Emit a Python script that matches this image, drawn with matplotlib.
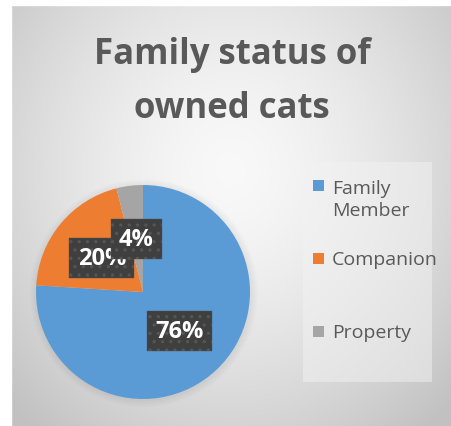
import numpy as np
import matplotlib.pyplot as plt
from matplotlib.patches import Rectangle, Circle

# data
categories = ['Family Member', 'Companion', 'Property']
legend_labels = ['Family\nMember', 'Companion', 'Property']
shares = [76, 20, 4]
colors = ['#5B9BD5', '#ED7D31', '#A5A5A5']

W, H = 452, 427
fig = plt.figure(figsize=(W / 100, H / 100), dpi=100)
plt.rcParams['font.family'] = ['Open Sans', 'DejaVu Sans']

# background panel with soft radial gradient
bg = fig.add_axes([0, 0, 1, 1])
bg.set_xlim(0, W)
bg.set_ylim(H, 0)
bg.axis('off')
yy, xx = np.mgrid[0:H, 0:W]
d = np.hypot((xx - 230) / 290, (yy - 170) / 320)
shade = np.clip(0.975 - 0.2 * d ** 1.5, 0.76, 0.98)
img = np.dstack([shade] * 3)
bg.imshow(img, extent=(0, W, H, 0), zorder=0)
bg.add_patch(Rectangle((0, 0), 11, H, color='white', zorder=1))
bg.add_patch(Rectangle((0, 0), W, 6, color='white', zorder=1))
# legend area
bg.add_patch(Rectangle((303, 163), 129, 220, color='#f2f2f2', alpha=0.5, lw=0, zorder=1))
# pie shadow
for i in range(5):
    bg.add_patch(Circle((144, 294), 114 - 1.5 * i, color='black', alpha=0.012, lw=0, zorder=1))

# title
fig.text(0.513, 0.872, 'Family status of', ha='center', va='center',
         fontsize=25, fontweight='bold', color='#595959')
fig.text(0.513, 0.745, 'owned cats', ha='center', va='center',
         fontsize=25, fontweight='bold', color='#595959')

# pie
ax = fig.add_axes([36 / W, (H - 293 - 107) / H, 214 / W, 214 / H])
plt.rcParams['hatch.linewidth'] = 1.2
wedges, texts, autotexts = ax.pie(
    shares, colors=colors, startangle=90, counterclock=False,
    autopct='%d%%', pctdistance=0.5,
    textprops=dict(color='white', fontsize=17, fontweight='bold'))
for t in autotexts:
    t.set_bbox(dict(boxstyle='square,pad=0.35', facecolor='#3f3f3f',
                    edgecolor='#555555', hatch='..', linewidth=0.3))
ax.set_xlim(-1, 1)
ax.set_ylim(-1, 1)
ax.set_aspect('equal')

# legend
leg_y = [196, 260, 333]
for lab, c, y in zip(legend_labels, colors, leg_y):
    bg.add_patch(Rectangle((313, y - 6 if '\n' not in lab else 181), 11, 11,
                           color=c, lw=0, zorder=3))
    bg.text(332, y if '\n' not in lab else 200, lab, ha='left', va='center',
            fontsize=14, color='#595959', linespacing=1.25, zorder=3)

fig.savefig('out.png', dpi=100)
